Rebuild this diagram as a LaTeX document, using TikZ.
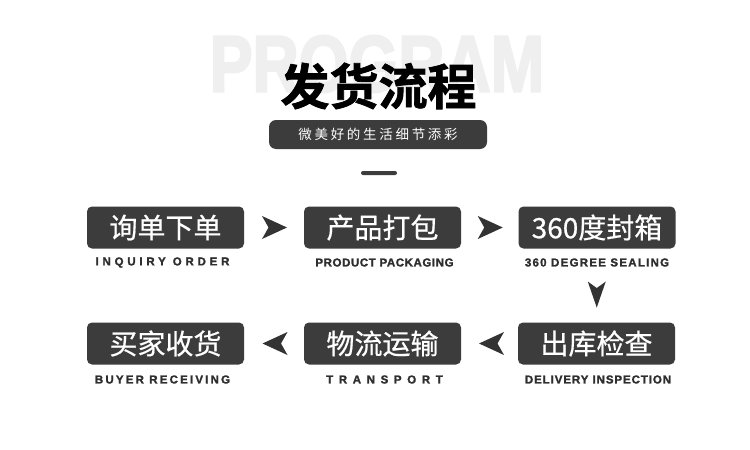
\documentclass[tikz,border=0pt]{standalone}
\usepackage{fontspec}
\usepackage{graphicx}
\setmainfont{Liberation Sans}
\newfontfamily\cjk{Noto Sans CJK SC}
\newfontfamily\cjkmed[FakeBold=0.6]{Noto Sans CJK SC}
\newfontfamily\cjkblack[FakeBold=1.5]{Noto Sans CJK SC Bold}
\newfontfamily\labfont[FakeBold=1.6]{Liberation Sans Bold}
\newfontfamily\wmfont[FakeBold=3]{Liberation Sans Bold}
\definecolor{wm}{HTML}{EFEFEF}
\definecolor{boxcol}{HTML}{3C3C3C}
\definecolor{labcol}{HTML}{2E2E2E}
\definecolor{arrcol}{HTML}{333333}
\tikzset{
  stepbox/.style={fill=boxcol, rounded corners=5pt, minimum width=157pt, minimum height=42pt,
    inner sep=0pt, text=white, font=\cjkmed\fontsize{28}{28}\selectfont},
  steplabel/.style={inner sep=0pt, text=labcol, font=\labfont\fontsize{11.5}{11.5}\selectfont},
  chev/.pic={\fill[arrcol] (-12.5,-11.5) -- (12.5,0) -- (-12.5,11.5) -- (-6,0) -- cycle;},
  chevdown/.pic={\fill[arrcol] (-9,-13) -- (0,13) -- (9,-13) -- (0,-6.5) -- cycle;}
}
\newcommand{\ls}[2]{{\addfontfeature{LetterSpace=#1}#2}}
\begin{document}
\begin{tikzpicture}[x=1pt,y=-1pt]
\useasboundingbox (0,0) rectangle (750,450);
\fill[white] (0,0) rectangle (750,450);
% watermark
\node[inner sep=0pt, text=wm, font=\wmfont\fontsize{80}{80}\selectfont] (wmark) at (377,64) {\scalebox{0.8}[1]{PROGRAM}};
% title
\node[inner sep=0pt, font=\cjkblack\fontsize{49}{49}\selectfont] (title) at (378.5,86) {发货流程};
% subtitle pill
\node[fill=boxcol, rounded corners=7pt, minimum width=218pt, minimum height=29pt, inner sep=0pt,
  text=white, font=\cjk\fontsize{13.5}{13.5}\selectfont] (sub) at (378,134.5) {\ls{20}{微美好的生活细节添彩}};
% dash
\node[fill=boxcol, rounded corners=2pt, minimum width=36pt, minimum height=4pt, inner sep=0pt] (dash) at (379,173) {};
% boxes
\node[stepbox] (b1) at (165.5,227.5) {询单下单};
\node[stepbox] (b2) at (382.5,227.5) {产品打包};
\node[stepbox] (b3) at (597,227.5) {360度封箱};
\node[stepbox] (b6) at (596.5,343.5) {出库检查};
\node[stepbox] (b5) at (382.5,343.5) {物流运输};
\node[stepbox] (b4) at (165.5,343.5) {买家收货};
% labels
\node[steplabel] (l1) at (162.5,262.5) {\ls{33}{INQUIRY ORDER}};
\node[steplabel] (l2) at (384.5,262.5) {\ls{5}{PRODUCT PACKAGING}};
\node[steplabel] (l3) at (597,262.5) {\ls{11}{360 DEGREE SEALING}};
\node[steplabel] (l6) at (598,379.5) {\ls{8}{DELIVERY INSPECTION}};
\node[steplabel] (l5) at (384.5,379.5) {\ls{49}{TRANSPORT}};
\node[steplabel] (l4) at (162.5,379.5) {\ls{19}{BUYER RECEIVING}};
% arrows
\path (b1.east) -- (b2.west) coordinate[midway] (m12);
\path (b2.east) -- (b3.west) coordinate[midway] (m23);
\path (l3.south) -- (b6.north) coordinate[midway] (m36);
\path (b6.west) -- (b5.east) coordinate[midway] (m65);
\path (b5.west) -- (b4.east) coordinate[midway] (m54);
\pic at ([xshift=0.5pt]m12) {chev};
\pic at ([xshift=0.5pt]m23) {chev};
\pic at (m36) {chevdown};
\pic[rotate=180] at ([xshift=2pt]m65) {chev};
\pic[rotate=180] at ([xshift=1pt]m54) {chev};
\end{tikzpicture}
\end{document}
